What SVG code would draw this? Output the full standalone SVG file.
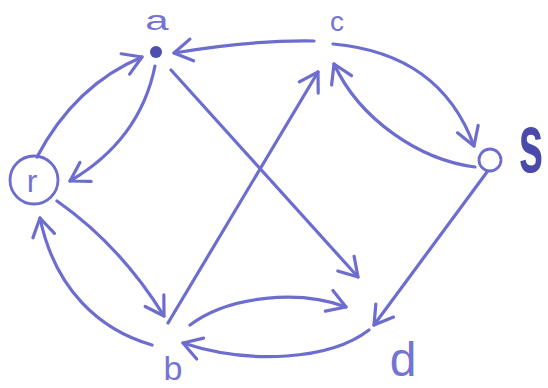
<svg xmlns="http://www.w3.org/2000/svg" width="548" height="388" viewBox="0 0 548 388">
<defs>
<style>
.e{fill:none;stroke:#6d6dcf;stroke-width:3.2;stroke-linecap:round;marker-end:url(#ah)}
.lbl{font-family:"Liberation Sans","DejaVu Sans",sans-serif;fill:#7474d4;text-anchor:middle}
.nd{fill:none;stroke:#6d6dcf;stroke-width:2.8}
</style>
<marker id="ah" markerUnits="userSpaceOnUse" markerWidth="40" markerHeight="40" refX="0" refY="0" viewBox="-20 -20 40 40" orient="auto" overflow="visible">
<path d="M-18,-11 L0,0 L-18,11" fill="none" stroke="#6d6dcf" stroke-width="3.2" stroke-linecap="round" stroke-linejoin="round"/>
</marker>
</defs>
<rect width="548" height="388" fill="#ffffff"/>
<g id="connectors">
<path class="e" d="M314,41 Q250,40 174,53"/>
<path class="e" d="M37,157 Q75,85 142,57"/>
<path class="e" d="M155,66 Q140,140 70,181"/>
<path class="e" d="M171,70 L358,277"/>
<path class="e" d="M168,323 L318,72"/>
<path class="e" d="M333,44 C400,50 450,80 474,146"/>
<path class="e" d="M475,167 C420,160 360,120 334,64"/>
<path class="e" d="M487,172 L374,325"/>
<path class="e" d="M57,201 Q120,245 164,316"/>
<path class="e" d="M152,345 C100,330 55,290 40,218"/>
<path class="e" d="M190,325 C230,295 300,290 346,307"/>
<path class="e" d="M369,330 C330,360 250,365 183,343"/>
</g>
<g id="node-a">
<circle cx="156" cy="52" r="6" fill="#4e4eb0"/>
<text class="lbl" x="0" y="0" font-size="28" transform="translate(157,30) scale(1.5,1)">a</text>
</g>
<g id="node-c">
<text class="lbl" x="337" y="31" font-size="28">c</text>
</g>
<g id="node-r">
<circle class="nd" cx="34" cy="180" r="24"/>
<text class="lbl" x="32" y="192" font-size="32">r</text>
</g>
<g id="node-s">
<circle class="nd" cx="490" cy="160" r="11"/>
<text class="lbl" x="0" y="0" font-size="44" font-weight="bold" style="fill:#4a4aaa" transform="translate(531,172) scale(1,1.9)">s</text>
</g>
<g id="node-b">
<text class="lbl" x="173" y="380" font-size="34">b</text>
</g>
<g id="node-d">
<text class="lbl" x="403" y="376" font-size="48">d</text>
</g>
</svg>
